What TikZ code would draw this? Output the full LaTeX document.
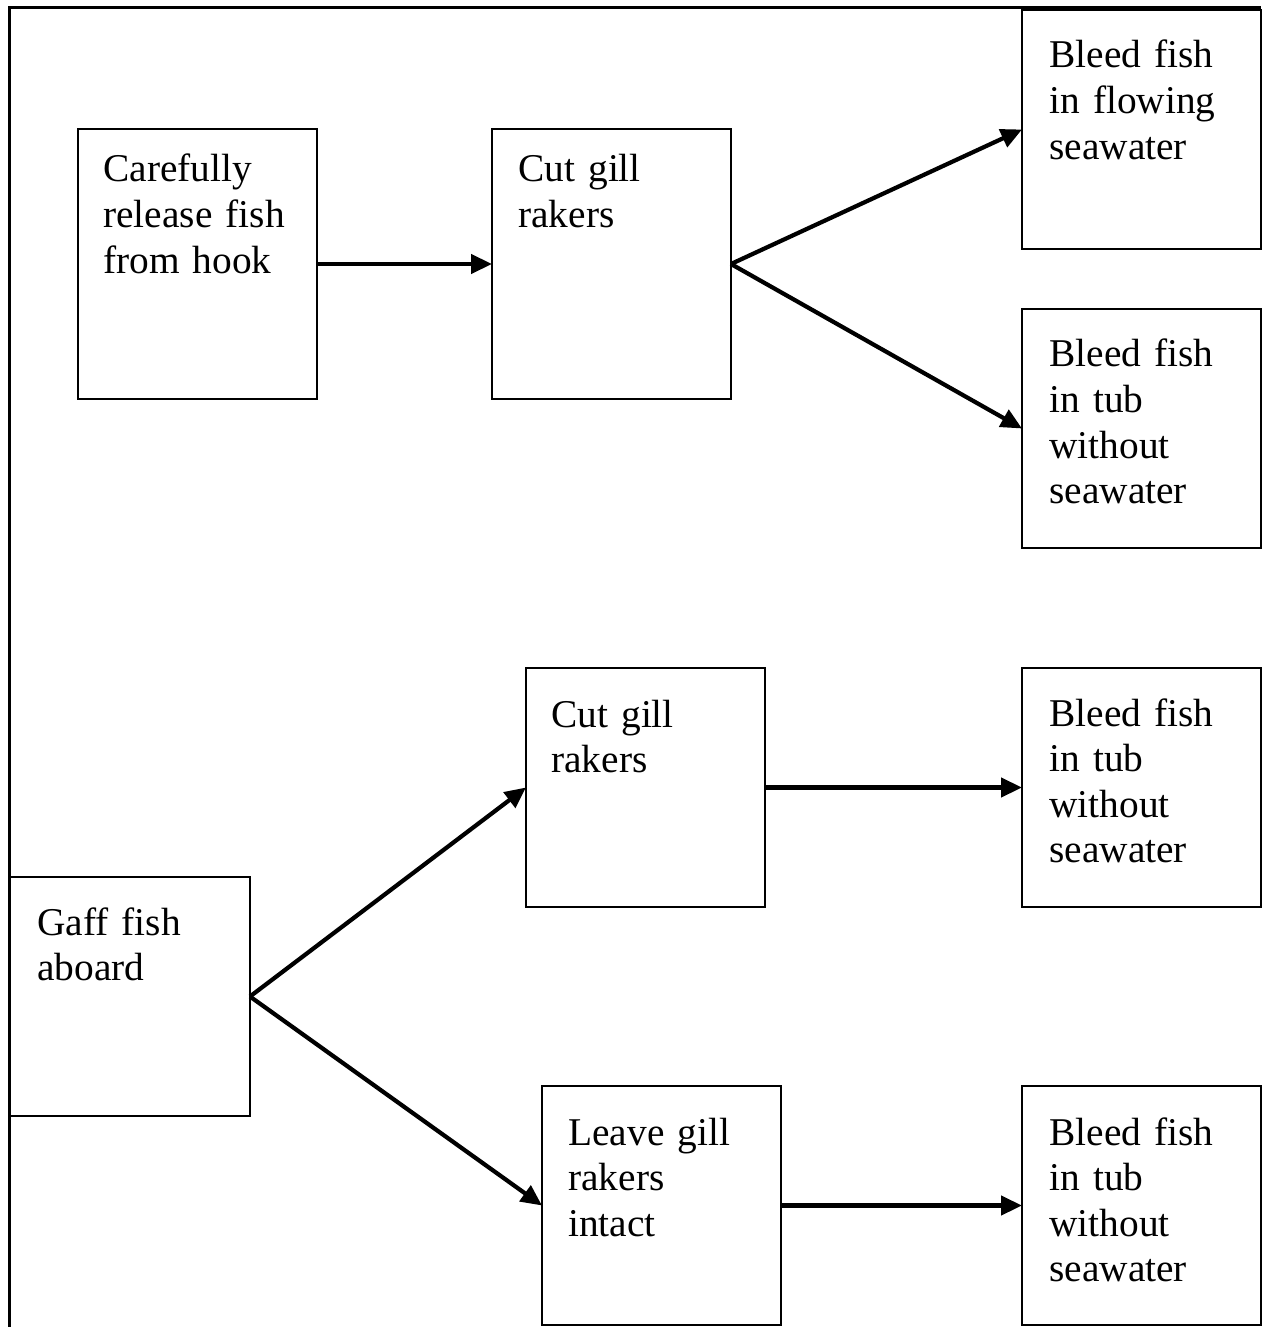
\documentclass[tikz,border=0pt]{standalone}
\usepackage{fontspec}
\setmainfont{Liberation Serif}
\usetikzlibrary{arrows.meta}
\begin{document}
\begin{tikzpicture}[x=0.02cm,y=-0.02cm,
  box/.style={draw,line width=1.1pt,inner sep=0pt,outer sep=0pt,minimum width=4.78cm,minimum height=4.78cm},
  tallbox/.style={box,minimum height=5.4cm},
  lbl/.style={anchor=base west,inner sep=0pt,text width=5cm,align=left,font=\fontsize{22.4pt}{25.9pt}\selectfont},
  arr/.style={line width=2.4pt,-{Triangle[length=0.42cm,width=0.38cm]}},
  frame/.style={line width=1.7pt}]
\useasboundingbox (0,0) rectangle (1263,1327);
% frame
\coordinate (ftl) at (9.5,7.5);
\coordinate (ftr) at (1261,7.5);
\coordinate (fbl) at (9.5,1327);
\draw[frame] (fbl) -- (ftl) -- (ftr);
% boxes
\node[tallbox] (b1) at (197.5,264) {};
\node[tallbox] (b2) at (611.5,264) {};
\node[box] (b3) at (1141.5,129.5) {};
\node[box] (b4) at (1141.5,428.5) {};
\node[box] (b5) at (645.5,787.5) {};
\node[box] (b6) at (1141.5,787.5) {};
\node[box,minimum width=4.8cm] (b7) at (130,996.5) {};
\node[box] (b8) at (661.5,1205.5) {};
\node[box] (b9) at (1141.5,1205.5) {};
% texts
\node[lbl] (t1) at (103,182) {Carefully\\release fish\\from hook};
\node[lbl] (t2) at (518,182) {Cut gill\\rakers};
\node[lbl] (t3) at (1049,68) {Bleed fish\\in flowing\\seawater};
\node[lbl] (t4) at (1049,367) {Bleed fish\\in tub\\without\\seawater};
\node[lbl] (t5) at (551,727) {Cut gill\\rakers};
\node[lbl] (t6) at (1049,726) {Bleed fish\\in tub\\without\\seawater};
\node[lbl] (t7) at (37,935) {Gaff fish\\aboard};
\node[lbl] (t8) at (568,1145) {Leave gill\\rakers\\intact};
\node[lbl] (t9) at (1049,1145) {Bleed fish\\in tub\\without\\seawater};
% arrows
\draw[arr] (b1.east) -- (b2.west);
\draw[arr] (b2.east) -- (b3.west);
\draw[arr] (b2.east) -- (b4.west);
\draw[arr] (b7.east) -- (b5.west);
\draw[arr] (b7.east) -- (b8.west);
\draw[arr] (b5.east) -- (b6.west);
\draw[arr] (b8.east) -- (b9.west);
\end{tikzpicture}
\end{document}
